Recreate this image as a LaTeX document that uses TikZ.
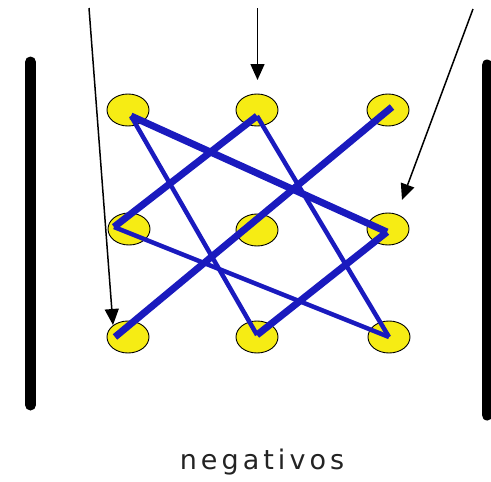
\documentclass[tikz,border=0pt]{standalone}
\usepackage{fontspec}
\newfontfamily\labelfont[LetterSpace=15]{DejaVu Sans}
\usetikzlibrary{arrows.meta,shapes.geometric}
\definecolor{lineblue}{RGB}{26,26,190}
\definecolor{dotyellow}{RGB}{246,236,20}
\definecolor{textgray}{RGB}{35,35,35}
\tikzset{
  dot/.style={ellipse, draw=black, line width=0.9pt, fill=dotyellow, minimum width=42pt, minimum height=32pt, inner sep=0pt},
  thickline/.style={draw=lineblue, line width=7pt},
  thinline/.style={draw=lineblue, line width=4.5pt},
  bar/.style={draw=black, line width=11pt, line cap=round},
  pointer/.style={draw=black, line width=1.5pt, -{Triangle[length=16pt,width=14pt]}},
}
\begin{document}
\begin{tikzpicture}[x=1pt,y=-1pt]
\useasboundingbox (0,0) rectangle (491,482);
% side bars
\coordinate (lbt) at (30.5,62);
\coordinate (lbb) at (30.5,405);
\coordinate (rbt) at (487,65);
\coordinate (rbb) at (487,415);
\draw[bar] (lbt) -- (lbb);
\draw[bar] (rbt) -- (rbb);
% dots
\node[dot] (d11) at (128,110) {};
\node[dot] (d12) at (257,110) {};
\node[dot] (d13) at (388,110) {};
\node[dot] (d21) at (129,229) {};
\node[dot] (d22) at (257,230) {};
\node[dot] (d23) at (388,229) {};
\node[dot] (d31) at (128,337) {};
\node[dot] (d32) at (257,337) {};
\node[dot] (d33) at (389,337) {};
% blue lines
\draw[thinline] ([shift={(3,6)}]d11.center) -- ([shift={(0,-2)}]d32.center);
\draw[thinline] ([shift={(0,6)}]d12.center) -- ([shift={(0,0)}]d33.center);
\draw[thinline] ([shift={(-15,-2)}]d21.center) -- ([shift={(0,0)}]d33.center);
\draw[thickline] ([shift={(3,6)}]d11.center) -- ([shift={(-1,3)}]d23.center);
\draw[thickline] ([shift={(0,6)}]d12.center) -- ([shift={(-15,-2)}]d21.center);
\draw[thickline] ([shift={(4,-3)}]d13.center) -- ([shift={(-13,0)}]d31.center);
\draw[thickline] ([shift={(-1,3)}]d23.center) -- ([shift={(0,-2)}]d32.center);
% pointers
\coordinate (p1s) at (89,8);
\coordinate (p1e) at (113,325);
\coordinate (p2s) at (257.5,8);
\coordinate (p2e) at (257.5,80);
\coordinate (p3s) at (473,9);
\coordinate (p3e) at (402,200);
\draw[pointer] (p1s) -- (p1e);
\draw[pointer] (p2s) -- (p2e);
\draw[pointer] (p3s) -- (p3e);
% label
\node[text=textgray, font=\labelfont\fontsize{27}{32}\selectfont] (lbl) at (262,462) {negativos};
\end{tikzpicture}
\end{document}
